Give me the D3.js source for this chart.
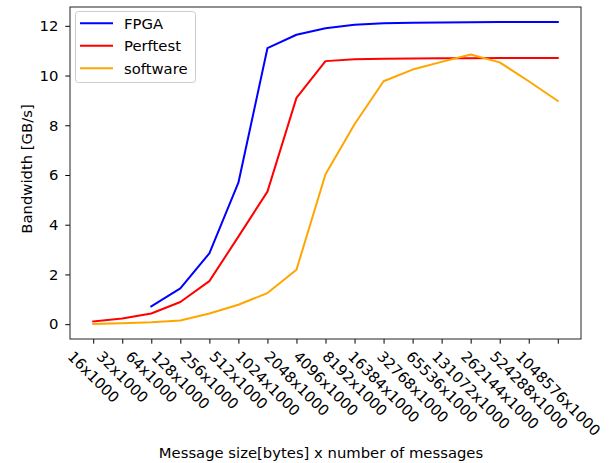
<!DOCTYPE html>
<html><head><meta charset="utf-8">
<script src="https://cdn.jsdelivr.net/npm/d3@7"></script>
<style>body{margin:0;background:#fff}svg{display:block}text{font-family:"DejaVu Sans",sans-serif;}</style>
</head><body><svg id="c" width="609" height="463"></svg>
<script>
const categories = ["16x1000","32x1000","64x1000","128x1000","256x1000","512x1000","1024x1000","2048x1000","4096x1000","8192x1000","16384x1000","32768x1000","65536x1000","131072x1000","262144x1000","524288x1000","1048576x1000"];
const fpga = [null,null,0.72,1.44,2.85,5.69,11.10,11.64,11.90,12.04,12.10,12.12,12.13,12.14,12.15,12.15,12.15];
const perftest = [0.11,0.23,0.43,0.89,1.73,3.52,5.33,9.10,10.58,10.66,10.68,10.69,10.70,10.70,10.71,10.71,10.71];
const software = [0.01,0.04,0.08,0.15,0.43,0.78,1.25,2.19,6.03,8.04,9.77,10.24,10.55,10.85,10.53,9.77,8.98];
const yTicks = [0,2,4,6,8,10,12];
const series = [
  {name:"FPGA", values:fpga, color:"#0000ff"},
  {name:"Perftest", values:perftest, color:"#ff0000"},
  {name:"software", values:software, color:"#ffa500"}
];

const FS="14.8px";
const L=70, R=581, T=7, B=339;
const svg = d3.select("#c");
const n = categories.length;
const x = d3.scaleLinear().domain([-0.05*(n-1), (n-1)*1.05]).range([L,R]);
const allv = [].concat(fpga,perftest,software).filter(v=>v!=null);
const ymin=d3.min(allv), ymax=d3.max(allv), pad=(ymax-ymin)*0.05;
const y = d3.scaleLinear().domain([ymin-pad, ymax+pad]).range([B,T]);

// lines
const line = d3.line().defined(d=>d!=null).x((d,i)=>x(i)).y(d=>y(d));
series.forEach(s=>{
  svg.append("path").attr("d", line(s.values)).attr("fill","none")
    .attr("stroke", s.color).attr("stroke-width",2).attr("stroke-linejoin","round").attr("stroke-linecap","square");
});

// y axis
const ya = svg.append("g").attr("transform",`translate(${L},0)`)
  .call(d3.axisLeft(y).tickValues(yTicks).tickSize(4.7).tickPadding(7).tickFormat(d3.format("d")));
ya.select(".domain").remove();
ya.selectAll("text").attr("font-size",FS).attr("fill","#000");
ya.selectAll("line").attr("stroke","#000").attr("stroke-width",1);

// x axis
const xa = svg.append("g").attr("transform",`translate(0,${B})`)
  .call(d3.axisBottom(x).tickValues(d3.range(n)).tickSize(4.7).tickFormat(i=>categories[i]));
xa.select(".domain").remove();
xa.selectAll("line").attr("stroke","#000").attr("stroke-width",1);
xa.selectAll("text").each(function(i){
  const t=d3.select(this);
  t.attr("font-size",FS).attr("fill","#000").attr("y",null).attr("dy",null)
   .attr("text-anchor","middle").attr("dominant-baseline","central");
  const len=this.getComputedTextLength();
  const h=11.5;
  const top=10.5;
  const cy = top + (len+h)*Math.SQRT1_2/2;
  t.attr("transform",`translate(0,${cy}) rotate(45)`);
});

// frame
svg.append("rect").attr("x",L).attr("y",T).attr("width",R-L).attr("height",B-T)
  .attr("fill","none").attr("stroke","#222").attr("stroke-width",1);

// labels
svg.append("text").attr("x",321).attr("y",458).attr("text-anchor","middle")
  .attr("font-size",FS).text("Message size[bytes] x number of messages");
svg.append("text").attr("transform",`translate(32,169) rotate(-90)`).attr("text-anchor","middle")
  .attr("font-size",FS).text("Bandwidth [GB/s]");

// legend
const lg = svg.append("g");
lg.append("rect").attr("x",75.5).attr("y",11.5).attr("width",120).attr("height",71).attr("rx",3)
  .attr("fill","#fff").attr("fill-opacity",0.8).attr("stroke","#ccc").attr("stroke-width",1);
series.forEach((s,k)=>{
  const yy = 23.3 + k*22.5;
  lg.append("line").attr("x1",80).attr("x2",113).attr("y1",yy).attr("y2",yy)
    .attr("stroke",s.color).attr("stroke-width",2);
  lg.append("text").attr("x",124).attr("y",yy).attr("dominant-baseline","central")
    .attr("font-size",FS).text(s.name);
});
</script></body></html>
